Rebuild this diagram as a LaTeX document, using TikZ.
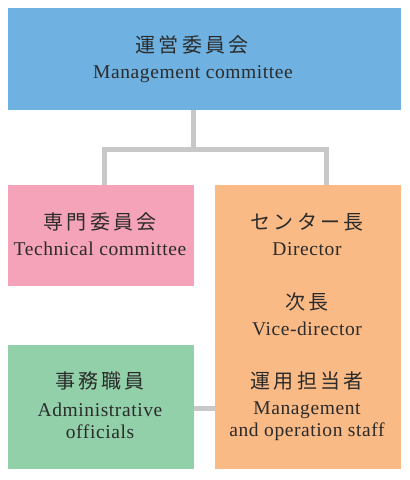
\documentclass[tikz,border=0pt]{standalone}
\usepackage{fontspec}
\setmainfont{Liberation Serif}[LetterSpace=3]
\newfontfamily\jp{Noto Sans CJK JP}[LetterSpace=16]
\definecolor{mgmtblue}{HTML}{6FB2E2}
\definecolor{techpink}{HTML}{F5A3B9}
\definecolor{staffora}{HTML}{F9BA86}
\definecolor{admingrn}{HTML}{92D0A9}
\definecolor{linkgray}{HTML}{C8C8C8}
\definecolor{txtgray}{HTML}{2B2B2B}
\begin{document}
\begin{tikzpicture}[x=1pt, y=-1pt,
    box/.style={inner sep=0pt, outer sep=0pt, minimum width=#1},
    jptext/.style={font=\jp\fontsize{20}{23}\selectfont, text=txtgray},
    entext/.style={font=\fontsize{19.5}{22}\selectfont, text=txtgray, align=center},
    link/.style={draw=linkgray, line width=5pt, line join=miter}]
    \useasboundingbox (0,0) rectangle (410,480);
    % boxes
    \node[box=393pt, fill=mgmtblue, minimum height=102pt] (mgmt) at (204.5,59) {};
    \node[box=186pt, fill=techpink, minimum height=101pt] (tech) at (101,235.5) {};
    \node[box=186pt, fill=staffora, minimum height=284pt] (dir) at (308,327) {};
    \node[box=186pt, fill=admingrn, minimum height=124pt] (admin) at (101,407) {};
    % connectors
    \coordinate (fork) at (193.5,149);
    \coordinate (jl) at (104.7,149);
    \coordinate (jr) at (326,149);
    \draw[link] (mgmt.south -| fork) -- (fork);
    \draw[link] (tech.north -| jl) -- (jl) -- (jr) -- (dir.north -| jr);
    \draw[link] (admin.east |- 0,408) -- (dir.west |- 0,408);
    % labels
    \node[jptext] (mgmtjp) at (192,45) {運営委員会};
    \node[entext] (mgmten) at (193,74) {Management committee};
    \node[jptext] (techjp) at (100,222) {専門委員会};
    \node[entext] (techen) at (100,249) {Technical committee};
    \node[jptext] (dirjp) at (307,222) {センター長};
    \node[entext] (diren) at (307,249) {Director};
    \node[jptext] (vicejp) at (307,302) {次長};
    \node[entext] (viceen) at (307,329) {Vice-director};
    \node[jptext] (staffjp) at (307,381) {運用担当者};
    \node[entext] (staffen) at (307,421) {Management\\and operation staff};
    \node[jptext] (adminjp) at (100,381) {事務職員};
    \node[entext] (adminen) at (100,421) {Administrative\\officials};
\end{tikzpicture}
\end{document}
